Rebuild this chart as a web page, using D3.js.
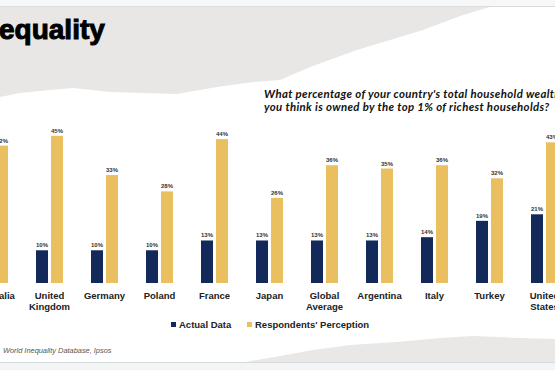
<!DOCTYPE html>
<html lang="en">
<head>
    <meta charset="UTF-8">
    <title>Wealth Inequality</title>
    <script src="https://d3js.org/d3.v7.min.js"></script>
    <style>
        body { margin: 0; background: #fff; }
        svg { display: block; font-family: "Liberation Sans", Arial, sans-serif; }
        .val { font-size: 6px; font-weight: bold; fill: #333; }
        .cat { font-size: 9.5px; font-weight: bold; fill: #222; }
        .leg { font-size: 9.5px; font-weight: bold; fill: #222; }
    </style>
</head>
<body>
<div id="chart"></div>
<script>
    // data (Australia's actual value is cut off, estimated)
    const countries = ["Australia", "United Kingdom", "Germany", "Poland", "France", "Japan",
        "Global Average", "Argentina", "Italy", "Turkey", "United States"];
    const actualData = [8, 10, 10, 10, 13, 13, 13, 13, 14, 19, 21];
    const perception = [42, 45, 33, 28, 44, 26, 36, 35, 36, 32, 43];
    const seriesNames = ["Actual Data", "Respondents' Perception"];
    const seriesColors = ["#13295a", "#e9bf60"];

    // torn paper edges (decoration)
    const topEdge = [[0, 7], [490, 7], [463, 15], [423, 30], [390, 40], [357, 50], [310, 67],
        [280, 80], [253, 82], [217, 87], [177, 94], [110, 92], [73, 88], [50, 90], [20, 93], [0, 97]];
    const bottomEdge = [[245, 362], [280, 356], [313, 350], [350, 345], [397, 342], [440, 338],
        [473, 336], [520, 338], [555, 339], [555, 362]];

    const width = 555, height = 370;
    const svg = d3.select("#chart").append("svg")
        .attr("width", width).attr("height", height);

    // background
    svg.append("rect").attr("width", width).attr("height", 7).attr("fill", "#f7f7f7");
    svg.append("path").attr("d", d3.line()(topEdge) + "Z").attr("fill", "#e8e7e6");
    svg.append("line").attr("x1", 0).attr("x2", width).attr("y1", 6.5).attr("y2", 6.5)
        .attr("stroke", "#d6dde1");
    svg.append("path").attr("d", d3.line()(bottomEdge) + "Z").attr("fill", "#e9e8e7");
    svg.append("rect").attr("y", 362).attr("width", width).attr("height", 8).attr("fill", "#f4f4f4");
    svg.append("line").attr("x1", 0).attr("x2", width).attr("y1", 362.5).attr("y2", 362.5)
        .attr("stroke", "#d3dce1");

    // title
    svg.append("text").attr("x", -1).attr("y", 39)
        .style("font-size", "28px").style("font-weight", "bold")
        .attr("stroke", "#000").attr("stroke-width", 1)
        .text("equality");

    // question
    const q = svg.append("text").attr("x", 264)
        .style("font-family", "Lato, sans-serif").style("font-size", "11.4px")
        .style("letter-spacing", "0.35px")
        .style("font-weight", "bold").style("font-style", "italic").attr("fill", "#111");
    q.append("tspan").attr("x", 264).attr("y", 98)
        .text("What percentage of your country's total household wealth do");
    q.append("tspan").attr("x", 264).attr("y", 111)
        .text("you think is owned by the top 1% of richest households?");

    // scales
    const x0 = d3.scaleBand().domain(countries).range([-33, 572]);
    const x1 = d3.scaleBand().domain(seriesNames).range([0, 27]).paddingInner(0.2);
    const y = d3.scaleLinear().domain([0, 45]).range([283, 135.8]);
    const color = d3.scaleOrdinal().domain(seriesNames).range(seriesColors);

    const rows = countries.map((c, i) => ({
        country: c,
        values: [
            { key: seriesNames[0], value: actualData[i] },
            { key: seriesNames[1], value: perception[i] }
        ]
    }));

    const groups = svg.selectAll("g.group").data(rows).enter().append("g")
        .attr("class", "group")
        .attr("transform", d => "translate(" + (x0(d.country) + (x0.bandwidth() - 27) / 2) + ",0)");

    groups.selectAll("rect").data(d => d.values).enter().append("rect")
        .attr("x", d => x1(d.key))
        .attr("y", d => y(d.value))
        .attr("width", x1.bandwidth())
        .attr("height", d => y(0) - y(d.value))
        .attr("fill", d => color(d.key));

    groups.selectAll("text.val").data(d => d.values).enter().append("text")
        .attr("class", "val")
        .attr("x", d => x1(d.key) + x1.bandwidth() / 2)
        .attr("y", d => y(d.value) - 3)
        .attr("text-anchor", "middle")
        .text(d => d.value + "%");

    // category labels
    const cats = svg.selectAll("text.cat").data(countries).enter().append("text")
        .attr("class", "cat")
        .attr("text-anchor", "middle");
    cats.each(function(c) {
        const words = c.split(" ");
        const cx = x0(c) + x0.bandwidth() / 2;
        words.forEach((w, i) => {
            d3.select(this).append("tspan").attr("x", cx).attr("y", 298.5 + i * 11.5).text(w);
        });
    });

    // legend
    const legX = [171, 247];
    const leg = svg.selectAll("g.leg").data(seriesNames).enter().append("g")
        .attr("transform", (d, i) => "translate(" + legX[i] + ",322)");
    leg.append("rect").attr("width", 5).attr("height", 5).attr("fill", d => color(d));
    leg.append("text").attr("class", "leg").attr("x", 8).attr("y", 6).text(d => d);

    // source
    svg.append("text").attr("x", 3).attr("y", 353)
        .style("font-size", "7.4px").style("font-style", "italic").attr("fill", "#555")
        .text("World Inequality Database, Ipsos");
</script>
</body>
</html>
